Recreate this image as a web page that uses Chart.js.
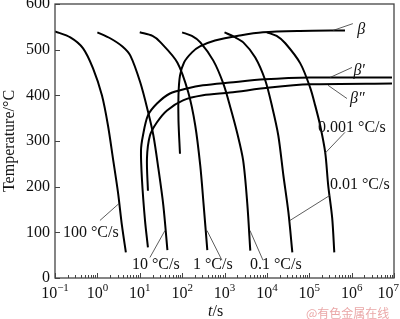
<!DOCTYPE html>
<html lang="en">
<head>
    <meta charset="UTF-8">
    <title>Cooling curves and precipitation</title>
    <script src="https://cdn.jsdelivr.net/npm/chart.js"></script>
    <style>
        body { margin: 0; background: #fff; }
        canvas { display: block; }
    </style>
</head>
<body>
    <canvas id="cctChart" width="400" height="319"></canvas>

    <script>
        // cooling curves, time in s and temperature in °C
        const rate100_t = [0.1, 0.23, 0.46, 0.79, 1.28, 1.78, 2.33, 3.06, 3.8, 4.7];
        const rate100_T = [540, 527, 503, 459, 400, 334, 262, 188, 115, 56];

        const rate10_t = [1, 2.0, 3.9, 6.0, 10.3, 15.8, 21, 27.5, 36, 45];
        const rate10_T = [538, 525, 507, 487, 428, 363, 312, 240, 159, 61];

        const rate1_t = [10, 20, 31, 77, 140, 204, 268, 320, 393];
        const rate1_T = [538, 530, 516, 472, 406, 334, 246, 163, 61];

        const rate01_t = [100, 170, 269, 545, 935, 1372, 2000, 2760, 3450, 4060];
        const rate01_T = [538, 530, 516, 476, 426, 374, 317, 257, 163, 60];

        const rate001_t = [1000, 1700, 2775, 5320, 9150, 13400, 18600, 24500, 32200, 39900];
        const rate001_T = [538, 528, 516, 483, 433, 374, 312, 225, 144, 56];

        const rate0001_t = [1e4, 1.7e4, 2.72e4, 6.14e4, 1.05e5, 1.38e5, 1.81e5, 2.38e5, 2.8e5, 3.48e5, 3.9e5];
        const rate0001_T = [538, 530, 514, 470, 417, 378, 334, 275, 203, 131, 56];

        // precipitation start lines
        const beta_t = [89, 82, 82, 89, 111, 171, 263, 596, 2320, 8090, 60400, 697000];
        const beta_T = [272, 345, 400, 443, 472, 494, 507, 520, 531, 538, 541, 542];

        const betaP_t = [15.6, 13.3, 11.3, 10.7, 11.9, 15.6, 25.5, 51.7, 130, 310, 1346, 9010, 1.04e5, 8.96e6];
        const betaP_T = [67, 126, 214, 279, 312, 356, 382, 404, 415, 422, 428, 435, 439, 439];

        const betaPP_t = [15.6, 14.8, 17.4, 25.5, 44, 105, 310, 1346, 11800, 1.04e5, 8.96e6];
        const betaPP_T = [191, 262, 312, 341, 367, 389, 400, 406, 417, 424, 426];

        // axis ticks
        const xDecades = [-1, 0, 1, 2, 3, 4, 5, 6, 7];
        const yTicks = [0, 100, 200, 300, 400, 500, 600];

        // labels: text, anchor (t, T), pointer line (t1, T1) -> (t2, T2)
        const labels = [
            { text: '100 °C/s', t: 0.154, T: 100, line: [1.15, 126, 3.23, 163] },
            { text: '10 °C/s', t: 6.55, T: 28, line: [17.4, 45, 39.4, 104] },
            { text: '1 °C/s', t: 180, T: 28, line: [871, 39, 386, 104] },
            { text: '0.1 °C/s', t: 3980, T: 28, line: [8090, 39, 3990, 104] },
            { text: '0.01 °C/s', t: 3.08e5, T: 203, line: [3.08e5, 181, 35100, 126] },
            { text: '0.001 °C/s', t: 1.61e5, T: 330, line: [6.97e5, 319, 2.35e5, 273] },
            { text: 'β', t: 1.35e6, T: 544, italic: true, line: [3.62e5, 542, 1.07e6, 557] },
            { text: 'β′', t: 1.1e6, T: 454, italic: true, line: [3.08e5, 439, 1.02e6, 461] },
            { text: 'β″', t: 9.2e5, T: 393, italic: true, line: [2.77e5, 422, 7.76e5, 393] }
        ];

        const serif = '"Liberation Serif", "Times New Roman", serif';

        function toPoints(ts, Ts) {
            return ts.map((t, i) => ({ x: t, y: Ts[i] }));
        }

        function curve(ts, Ts) {
            return {
                data: toPoints(ts, Ts),
                showLine: true,
                borderColor: '#000',
                borderWidth: 2,
                pointRadius: 0,
                tension: 0.3,
                fill: false
            };
        }

        // frame, inward ticks, x tick labels, annotations
        const decorations = {
            id: 'decorations',
            afterDraw(chart) {
                const ctx = chart.ctx;
                const a = chart.chartArea;
                const xs = chart.scales.x;
                const ys = chart.scales.y;
                ctx.save();

                ctx.strokeStyle = '#444';
                ctx.lineWidth = 1.3;
                ctx.strokeRect(a.left, a.top, a.right - a.left, a.bottom - a.top);

                ctx.lineWidth = 1;
                ctx.beginPath();
                yTicks.forEach(v => {
                    const y = Math.round(ys.getPixelForValue(v)) + 0.5;
                    ctx.moveTo(a.left, y);
                    ctx.lineTo(a.left + 5, y);
                });
                for (let e = -1; e <= 7; e++) {
                    for (let m = 1; m <= 9; m++) {
                        const v = m * Math.pow(10, e);
                        if (v > 1e7) break;
                        const x = Math.round(xs.getPixelForValue(v)) + 0.5;
                        ctx.moveTo(x, a.bottom);
                        ctx.lineTo(x, a.bottom - (m === 1 ? 5 : 3));
                    }
                }
                ctx.stroke();

                // x tick labels with raised exponents
                ctx.fillStyle = '#111';
                ctx.textAlign = 'left';
                ctx.textBaseline = 'alphabetic';
                xDecades.forEach(e => {
                    const exp = e < 0 ? '−' + (-e) : String(e);
                    ctx.font = '16px ' + serif;
                    const w1 = ctx.measureText('10').width;
                    ctx.font = '11px ' + serif;
                    const w2 = ctx.measureText(exp).width;
                    let x0 = xs.getPixelForValue(Math.pow(10, e)) - (w1 + w2) / 2;
                    x0 = Math.min(x0, 399 - w1 - w2);
                    ctx.font = '16px ' + serif;
                    ctx.fillText('10', x0, 298);
                    ctx.font = '11px ' + serif;
                    ctx.fillText(exp, x0 + w1, 291);
                });

                // pointer lines
                ctx.strokeStyle = '#333';
                ctx.lineWidth = 0.8;
                ctx.beginPath();
                labels.forEach(l => {
                    ctx.moveTo(xs.getPixelForValue(l.line[0]), ys.getPixelForValue(l.line[1]));
                    ctx.lineTo(xs.getPixelForValue(l.line[2]), ys.getPixelForValue(l.line[3]));
                });
                ctx.stroke();

                // label texts
                ctx.textBaseline = 'middle';
                labels.forEach(l => {
                    ctx.font = (l.italic ? 'italic ' : '') + '16px ' + serif;
                    ctx.fillText(l.text, xs.getPixelForValue(l.t), ys.getPixelForValue(l.T));
                });

                // x axis title, italic t
                const tx = 208, ty = 312;
                ctx.font = 'italic 16px ' + serif;
                ctx.fillText('t', tx, ty);
                const tw = ctx.measureText('t').width;
                ctx.font = '16px ' + serif;
                ctx.fillText('/s', tx + tw, ty);

                // site watermark
                ctx.font = '12px "Noto Sans CJK SC", sans-serif';
                ctx.fillStyle = 'rgba(225, 130, 130, 0.7)';
                ctx.fillText('@有色金属在线', 306, 313);

                ctx.restore();
            }
        };

        const ctx = document.getElementById('cctChart').getContext('2d');
        new Chart(ctx, {
            type: 'scatter',
            data: {
                datasets: [
                    curve(rate100_t, rate100_T),
                    curve(rate10_t, rate10_T),
                    curve(rate1_t, rate1_T),
                    curve(rate01_t, rate01_T),
                    curve(rate001_t, rate001_T),
                    curve(rate0001_t, rate0001_T),
                    curve(beta_t, beta_T),
                    curve(betaP_t, betaP_T),
                    curve(betaPP_t, betaPP_T)
                ]
            },
            options: {
                responsive: false,
                animation: false,
                layout: { padding: { top: 4, right: 6, left: 0, bottom: 0 } },
                plugins: {
                    legend: { display: false },
                    tooltip: { enabled: false }
                },
                scales: {
                    x: {
                        type: 'logarithmic',
                        min: 0.1,
                        max: 1e7,
                        grid: { display: false, drawTicks: false },
                        border: { display: false },
                        ticks: { display: false },
                        afterFit: scale => {
                            scale.height = 41;
                            scale.paddingLeft = 0;
                            scale.paddingRight = 0;
                        }
                    },
                    y: {
                        min: 0,
                        max: 600,
                        grid: { display: false, drawTicks: false },
                        border: { display: false },
                        afterFit: scale => {
                            scale.width = 55;
                            scale.paddingTop = 0;
                            scale.paddingBottom = 0;
                        },
                        ticks: {
                            stepSize: 100,
                            padding: 5,
                            color: '#111',
                            font: { family: serif, size: 16 }
                        },
                        title: {
                            display: true,
                            text: 'Temperature/°C',
                            color: '#111',
                            padding: { top: 0, bottom: 0 },
                            font: { family: serif, size: 16 }
                        }
                    }
                }
            },
            plugins: [decorations]
        });
    </script>
</body>
</html>
